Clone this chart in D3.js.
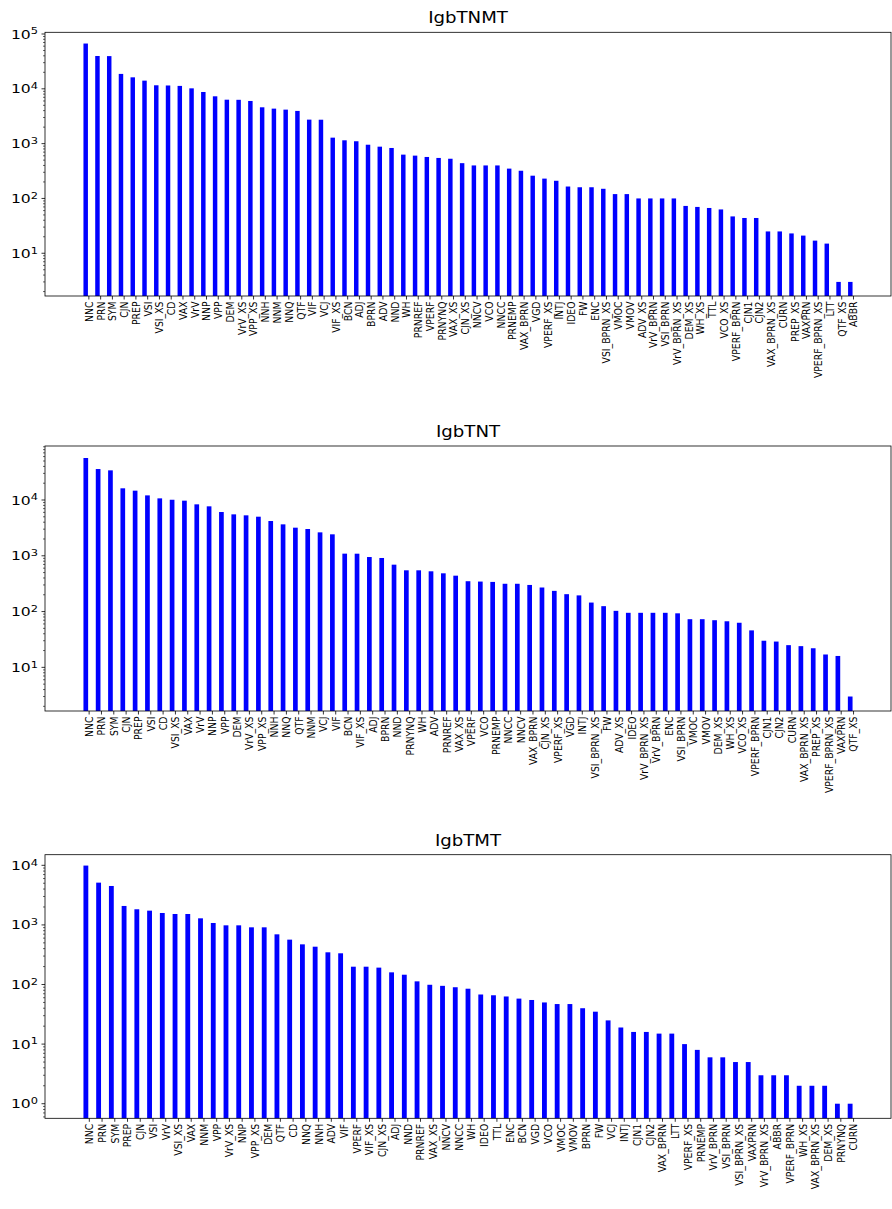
<!DOCTYPE html>
<html><head><meta charset="utf-8">
<script src="https://cdn.jsdelivr.net/npm/d3@7"></script>
<style>body{margin:0;background:#fff} text{font-family:"DejaVu Sans",sans-serif;fill:#000}</style>
</head><body><svg id="c" width="892" height="1209"></svg>
<script>
const titles = ["IgbTNMT", "IgbTNT", "IgbTMT"];

const cats1 = ["NNC","PRN","SYM","CJN","PREP","VSI","VSI_XS","CD","VAX","VrV","NNP","VPP","DEM","VrV_XS","VPP_XS","NNH","NNM","NNQ","QTF","VIF","VCJ","VIF_XS","BCN","ADJ","BPRN","ADV","NND","WH","PRNREF","VPERF","PRNYNQ","VAX_XS","CJN_XS","NNCV","VCO","NNCC","PRNEMP","VAX_BPRN","VGD","VPERF_XS","INTJ","IDEO","FW","ENC","VSI_BPRN_XS","VMOC","VMOV","ADV_XS","VrV_BPRN","VSI_BPRN","VrV_BPRN_XS","DEM_XS","WH_XS","TTL","VCO_XS","VPERF_BPRN","CJN1","CJN2","VAX_BPRN_XS","CURN","PREP_XS","VAXPRN","VPERF_BPRN_XS","LTT","QTF_XS","ABBR"];
const vals1 = [67000,39700,39500,18700,16200,14100,11600,11500,11300,10200,8750,7300,6330,6300,6000,4600,4350,4170,3950,2740,2730,1285,1150,1105,955,880,833,630,604,571,548,530,440,400,400,400,350,320,260,230,210,165,160,160,150,120,120,100,100,100,100,73,70,67,63,47,44,44,25,25,23,21,17,15,3,3];

const cats2 = ["NNC","PRN","SYM","CJN","PREP","VSI","CD","VSI_XS","VAX","VrV","NNP","VPP","DEM","VrV_XS","VPP_XS","NNH","NNQ","QTF","NNM","VCJ","VIF","BCN","VIF_XS","ADJ","BPRN","NND","PRNYNQ","WH","ADV","PRNREF","VAX_XS","VPERF","VCO","PRNEMP","NNCC","NNCV","VAX_BPRN","CJN_XS","VPERF_XS","VGD","INTJ","VSI_BPRN_XS","FW","ADV_XS","IDEO","VrV_BPRN_XS","VrV_BPRN","ENC","VSI_BPRN","VMOC","VMOV","DEM_XS","WH_XS","VCO_XS","VPERF_BPRN","CJN1","CJN2","CURN","VAX_BPRN_XS","PREP_XS","VPERF_BPRN_XS","VAXPRN","QTF_XS"];
const vals2 = [56600,35900,34000,16200,14700,12100,10700,10100,9730,8360,7700,6090,5530,5310,5020,4200,3660,3190,3020,2630,2425,1092,1090,950,913,693,549,549,527,485,440,350,345,340,315,315,300,270,235,205,195,145,125,103,95,95,95,95,93,73,73,70,67,63,46,30,29,25,24,22,17,16,3];

const cats3 = ["NNC","PRN","SYM","PREP","CJN","VSI","VrV","VSI_XS","VAX","NNM","VPP","VrV_XS","NNP","VPP_XS","DEM","QTF","CD","NNQ","NNH","ADV","VIF","VPERF","VIF_XS","CJN_XS","ADJ","NND","PRNREF","VAX_XS","NNCV","NNCC","WH","IDEO","TTL","ENC","BCN","VGD","VCO","VMOC","VMOV","BPRN","FW","VCJ","INTJ","CJN1","CJN2","VAX_BPRN","LTT","VPERF_XS","PRNEMP","VrV_BPRN","VSI_BPRN","VSI_BPRN_XS","VAXPRN","VrV_BPRN_XS","ABBR","VPERF_BPRN","WH_XS","VAX_BPRN_XS","DEM_XS","PRNYNQ","CURN"];
const vals3 = [9900,5120,4500,2080,1830,1735,1585,1525,1525,1290,1077,984,984,911,911,695,566,472,431,347,334,199,199,192,160,146,113,99,95,90,85,68,66,63,58,55,50,47,47,40,35,25,19,16,16,15,15,10,8,6,6,5,5,3,3,3,2,2,2,1,1];

const svg = d3.select("#c");
const left = 45, right = 891;
const barW = 0.38, tickOff = 0.27;
const stretch = 1.2;

const panels = [
  {title: titles[0], cats: cats1, vals: vals1, top: 32.3, bottom: 296, dom: [1.66, 107400]},
  {title: titles[1], cats: cats2, vals: vals2, top: 446, bottom: 711, dom: [1.65, 92900]},
  {title: titles[2], cats: cats3, vals: vals3, top: 854.7, bottom: 1118.3, dom: [0.569, 15070]}
];

panels.forEach(p => {
  const n = p.cats.length;
  const span = (n - 1) + barW;
  const m = 0.05 * span;
  const x = d3.scaleLinear().domain([-barW/2 - m, n - 1 + barW/2 + m]).range([left, right]);
  const y = d3.scaleLog().domain(p.dom).range([p.bottom, p.top]);
  const g = svg.append("g");

  const clipId = "clip" + p.title;
  g.append("clipPath").attr("id", clipId).append("rect")
    .attr("x", left).attr("y", p.top).attr("width", right - left).attr("height", p.bottom - p.top);

  g.append("g").attr("clip-path", `url(#${clipId})`)
    .selectAll("rect").data(p.vals).join("rect")
    .attr("x", (d, i) => x(i - barW/2))
    .attr("width", (d, i) => x(i + barW/2) - x(i - barW/2))
    .attr("y", d => y(d))
    .attr("height", d => p.bottom - y(d) + 1)
    .attr("fill", "#0000ff");

  // x axis ticks
  const xa = g.append("g").attr("transform", `translate(0,${p.bottom})`);
  p.cats.forEach((c, i) => {
    const xt = x(i + tickOff);
    xa.append("line").attr("x1", xt).attr("x2", xt).attr("y1", 0).attr("y2", 3.5)
      .attr("stroke", "#000").attr("stroke-width", 0.8);
    xa.append("text").attr("transform", `translate(${xt},5.5) rotate(-90) scale(1,${stretch})`)
      .attr("text-anchor", "end").attr("dy", "0.35em")
      .attr("font-size", 9.3).text(c);
  });

  // y axis ticks
  const lo = Math.floor(Math.log10(p.dom[0])), hi = Math.ceil(Math.log10(p.dom[1]));
  const ya = g.append("g");
  for (let k = lo; k <= hi; k++) {
    for (let j = 1; j <= 9; j++) {
      const v = j * Math.pow(10, k);
      if (v < p.dom[0] || v > p.dom[1]) continue;
      const yy = y(v);
      ya.append("line").attr("x1", left).attr("x2", left - (j === 1 ? 3.5 : 2))
        .attr("y1", yy).attr("y2", yy).attr("stroke", "#000").attr("stroke-width", j === 1 ? 0.8 : 0.6);
      if (j === 1) {
        const t = ya.append("text").attr("transform", `translate(${left - 7},${yy}) scale(${stretch},1)`)
          .attr("dy", "0.35em").attr("text-anchor", "end").attr("font-size", 13);
        t.append("tspan").text("10");
        t.append("tspan").attr("dy", "-0.45em").attr("font-size", 9.5).text(String(k));
      }
    }
  }

  // frame
  g.append("rect").attr("x", left).attr("y", p.top).attr("width", right - left).attr("height", p.bottom - p.top)
    .attr("fill", "none").attr("stroke", "#000").attr("stroke-width", 0.8);

  // title
  g.append("text").attr("transform", `translate(${(left + right) / 2},${p.top - 9}) scale(1.1,1)`)
    .attr("text-anchor", "middle").attr("font-size", 16.5).text(p.title);
});
</script></body></html>
